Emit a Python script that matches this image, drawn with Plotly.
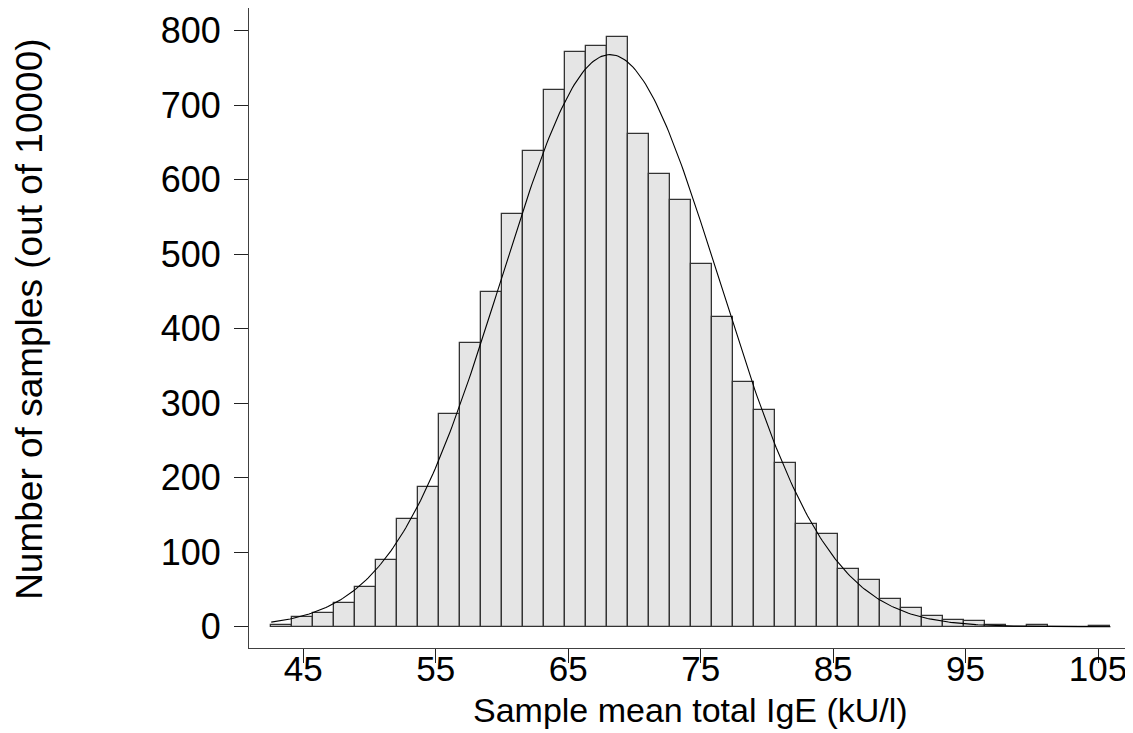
import numpy as np
import plotly.graph_objects as go

# ---- data ----
bin_start = 42.58          # left edge of first bin (kU/l)
bin_width = 1.584          # bin width (kU/l)
counts = [2, 13, 18, 32, 53, 89, 145, 187, 286, 381,
          449, 554, 639, 721, 772, 780, 792, 661, 608, 573,
          487, 416, 328, 291, 220, 138, 125, 78, 63, 37,
          25, 15, 9, 8, 2, 0, 2, 0, 0, 1]
n_samples = 10000
fit_mean = 68.16           # normal fit overlay
fit_sd = 8.23
x_ticks = [45, 55, 65, 75, 85, 95, 105]
y_ticks = [0, 100, 200, 300, 400, 500, 600, 700, 800]

x_title = "Sample mean total IgE (kU/l)"
y_title = "Number of samples (out of 10000)"

# ---- derived ----
centers = [bin_start + bin_width * (i + 0.5) for i in range(len(counts))]
x_lo = bin_start
x_hi = bin_start + bin_width * len(counts)
xs = np.linspace(x_lo, x_hi, 400)
ys = n_samples * bin_width * np.exp(-0.5 * ((xs - fit_mean) / fit_sd) ** 2) / (fit_sd * np.sqrt(2 * np.pi))

FONT = "Liberation Sans, Arial, Helvetica, sans-serif"

fig = go.Figure()
fig.add_trace(go.Bar(
    x=centers, y=counts, width=bin_width,
    marker=dict(color="#e5e5e5", line=dict(color="#333333", width=1.3)),
    showlegend=False, hoverinfo="x+y",
))
fig.add_trace(go.Scatter(
    x=xs, y=ys, mode="lines",
    line=dict(color="#000000", width=1.1),
    showlegend=False, hoverinfo="skip",
))

# the page body adds an 8px offset, so the figure is 8px smaller on each side
fig.update_layout(
    width=1125, height=725,
    margin=dict(l=241, r=2, t=0, b=85),
    paper_bgcolor="white", plot_bgcolor="white",
    font=dict(family=FONT, size=36, color="black"),
    bargap=0,
    xaxis=dict(
        range=[40.90, 107.49],
        tickmode="array", tickvals=x_ticks, ticktext=[str(v) for v in x_ticks],
        ticks="outside", ticklen=14, tickwidth=1, tickcolor="#222222",
        showline=True, linecolor="#404040", linewidth=1,
        showgrid=False, zeroline=False,
        tickfont=dict(family=FONT, size=35, color="black"),
        ticklabelstandoff=-24,
    ),
    yaxis=dict(
        range=[-28.6, 830.4],
        tickmode="array", tickvals=y_ticks, ticktext=[str(v) for v in y_ticks],
        ticks="outside", ticklen=14, tickwidth=1, tickcolor="#222222",
        showline=True, linecolor="#404040", linewidth=1,
        showgrid=False, zeroline=False,
        tickfont=dict(family=FONT, size=36, color="black"),
        ticklabelstandoff=6,
    ),
    annotations=[
        dict(text=x_title, xref="paper", yref="paper", x=0.5, y=0,
             xanchor="center", yanchor="top", yshift=-41, showarrow=False,
             font=dict(family=FONT, size=34, color="black")),
        dict(text=y_title, xref="paper", yref="paper", x=0, y=0.5127,
             xanchor="center", yanchor="middle", xshift=-219, textangle=-90,
             showarrow=False, font=dict(family=FONT, size=37, color="black")),
    ],
)

fig.write_html("out.html")
